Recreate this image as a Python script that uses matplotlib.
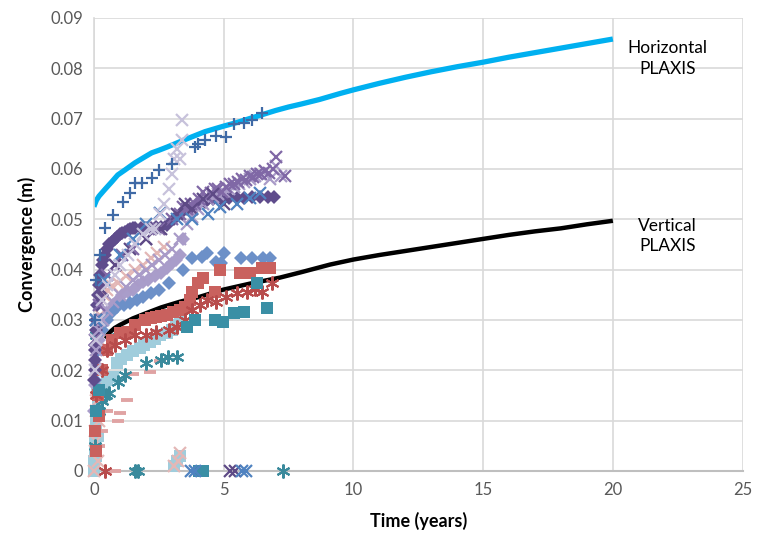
import matplotlib
matplotlib.use("Agg")
import matplotlib.pyplot as plt

# ---------------- data ----------------
plaxis_h_t = [0, 0.1, 0.2, 0.42, 0.7, 0.92, 1.2, 1.58, 2.0, 2.23, 2.5, 2.85, 3.5, 4.28, 5, 5.5, 6, 6.5, 7, 7.5, 8, 8.7, 9.5, 10, 11, 12, 13, 14, 15, 16, 17, 18, 19, 20]
plaxis_h_y = [0.0525, 0.0538, 0.0546, 0.0559, 0.0575, 0.0588, 0.0598, 0.0612, 0.0625, 0.0632, 0.0637, 0.0644, 0.0658, 0.0674, 0.0685, 0.0692, 0.0700, 0.0708, 0.0716, 0.0723, 0.0729, 0.0738, 0.0750, 0.0757, 0.0770, 0.0782, 0.0793, 0.0803, 0.0812, 0.0822, 0.0831, 0.0840, 0.0849, 0.0858]

plaxis_v_t = [0.42, 0.6, 0.8, 1.0, 1.5, 2.04, 2.6, 3.3, 4.08, 4.97, 6, 7.16, 8, 9.1, 10, 11, 12, 13, 14, 15, 16, 17, 18, 19, 20]
plaxis_v_y = [0.0264, 0.0275, 0.0284, 0.0290, 0.0303, 0.0314, 0.0325, 0.0336, 0.0346, 0.0360, 0.0372, 0.0384, 0.0395, 0.0410, 0.0420, 0.0429, 0.0437, 0.0445, 0.0453, 0.0461, 0.0469, 0.0476, 0.0482, 0.0490, 0.0497]

blue_plus_t = [0.05, 0.1, 0.23, 0.42, 0.73, 1.12, 1.39, 1.58, 1.85, 2.23, 2.5, 3.0, 3.9, 4.0, 4.28, 4.7, 5.08, 5.39, 5.78, 6.08, 6.47]
blue_plus_y = [0.030, 0.038, 0.043, 0.0483, 0.0509, 0.0535, 0.0553, 0.0573, 0.0573, 0.0582, 0.0598, 0.0610, 0.0644, 0.0650, 0.0658, 0.0666, 0.0664, 0.0690, 0.0692, 0.0698, 0.0712]

lav_x_t = [0.05, 0.1, 0.2, 0.3, 0.5, 0.8, 1.0, 1.3, 1.6, 1.9, 2.2, 2.35, 2.55, 2.7, 2.9, 3.0, 3.1, 3.2, 3.3, 3.4, 3.4]
lav_x_y = [0.020, 0.026, 0.030, 0.034, 0.037, 0.039, 0.041, 0.043, 0.045, 0.047, 0.048, 0.048, 0.051, 0.053, 0.056, 0.059, 0.062, 0.064, 0.062, 0.0658, 0.0698]

dpurple_dia_t = [0.02, 0.03, 0.04, 0.05, 0.06, 0.08, 0.1, 0.13, 0.16, 0.2, 0.25, 0.3, 0.36, 0.43, 0.5, 0.6, 0.7, 0.8, 0.9, 1.0, 1.1, 1.2, 1.3, 1.4, 1.5, 1.6, 1.8, 2.0, 2.2, 2.4, 2.6, 2.8, 3.1, 3.4, 3.7, 4.0, 4.3, 4.6, 4.9, 5.2, 5.5, 5.8, 6.1, 6.4, 6.7, 6.95]
dpurple_dia_y = [0.018, 0.020, 0.022, 0.024, 0.025, 0.028, 0.030, 0.033, 0.035, 0.037, 0.039, 0.041, 0.042, 0.043, 0.044, 0.045, 0.0455, 0.046, 0.0465, 0.047, 0.0472, 0.0475, 0.0478, 0.048, 0.0482, 0.0483, 0.0483, 0.0483, 0.0483, 0.0485, 0.0485, 0.0488, 0.0500, 0.0515, 0.0520, 0.0530, 0.0535, 0.0540, 0.0540, 0.0543, 0.0543, 0.0543, 0.0545, 0.0545, 0.0545, 0.0545]

purple_x_t = [0.05, 0.1, 0.2, 0.3, 0.5, 0.8, 1.1, 1.5, 2.0, 2.5, 3.0, 3.3, 3.45, 3.6, 3.75, 3.9, 4.05, 4.2, 4.35, 4.5, 4.65, 4.8, 4.95, 5.1, 5.25, 5.4, 5.55, 5.7, 5.85, 6.0, 6.15, 6.3, 6.45, 6.6, 6.75, 6.9, 7.0, 7.35]
purple_x_y = [0.026, 0.030, 0.033, 0.036, 0.039, 0.041, 0.043, 0.044, 0.046, 0.048, 0.050, 0.051, 0.0525, 0.052, 0.053, 0.053, 0.054, 0.0555, 0.0545, 0.0553, 0.056, 0.056, 0.0555, 0.0565, 0.057, 0.057, 0.0575, 0.058, 0.0578, 0.0585, 0.0583, 0.0589, 0.059, 0.0595, 0.0592, 0.0600, 0.0624, 0.0585]

lpurple_x_t = [0.1, 0.2, 0.35, 0.5, 0.75, 1.0, 1.25, 1.5, 1.75, 2.0, 2.25, 2.5, 2.75, 3.0, 3.3, 3.6, 3.8, 4.0, 4.2, 4.4, 4.6, 4.8, 5.0, 5.2, 5.4, 5.6, 5.8, 6.0, 6.2, 6.4, 6.6, 6.8, 7.0, 7.2]
lpurple_x_y = [0.024, 0.028, 0.030, 0.032, 0.0335, 0.035, 0.0365, 0.038, 0.039, 0.040, 0.041, 0.042, 0.043, 0.044, 0.046, 0.049, 0.0505, 0.052, 0.053, 0.054, 0.0545, 0.055, 0.0555, 0.056, 0.0565, 0.057, 0.0575, 0.058, 0.0585, 0.059, 0.0595, 0.058, 0.0605, 0.0585]

dpurple_x_t = [0.1, 0.3, 0.8, 1.4, 2.0, 2.6, 3.2, 3.5, 3.8, 4.2, 4.6, 5.0, 5.25, 5.45]
dpurple_x_y = [0.030, 0.036, 0.041, 0.044, 0.046, 0.048, 0.051, 0.053, 0.052, 0.054, 0.055, 0.053, 0.0, 0.0]

blue_x_t = [0.1, 0.4, 1.0, 1.5, 2.0, 2.55, 3.2, 3.8, 4.4, 4.85, 5.5, 6.0, 6.4, 3.75, 3.9, 5.7, 5.85]
blue_x_y = [0.030, 0.038, 0.043, 0.046, 0.049, 0.0513, 0.050, 0.050, 0.051, 0.0525, 0.053, 0.0543, 0.0553, 0.0, 0.0, 0.0, 0.0]

lpurple_dia_t = [0.02, 0.05, 0.1, 0.15, 0.2, 0.3, 0.42, 0.6, 0.75, 0.92, 1.1, 1.3, 1.5, 1.7, 1.9, 2.1, 2.35, 2.6, 2.8, 3.0, 3.15, 3.3, 3.45]
lpurple_dia_y = [0.012, 0.017, 0.021, 0.024, 0.026, 0.029, 0.0306, 0.032, 0.033, 0.034, 0.035, 0.0355, 0.036, 0.037, 0.0375, 0.038, 0.0387, 0.0394, 0.0403, 0.0413, 0.0420, 0.0430, 0.0460]

pink_x_t = [0.02, 0.04, 0.06, 0.08, 0.1, 0.12, 0.15, 0.18, 0.2, 0.25, 0.3, 0.4, 0.5, 0.7, 0.92, 1.25, 1.58, 1.9, 2.2, 2.45, 2.7, 3.3, 3.1, 3.25, 0.15, 0.1, 0.2, 0.12]
pink_x_y = [0.0, 0.004, 0.008, 0.012, 0.016, 0.020, 0.024, 0.026, 0.028, 0.031, 0.034, 0.035, 0.036, 0.0367, 0.0374, 0.0387, 0.040, 0.041, 0.0423, 0.0433, 0.0445, 0.0035, 0.001, 0.002, 0.002, 0.006, 0.010, 0.014]

blue_dia_t = [0.05, 0.15, 0.3, 0.5, 0.7, 0.88, 1.15, 1.4, 1.65, 1.9, 2.2, 2.5, 2.9, 3.43, 3.8, 4.16, 4.35, 4.7, 4.9, 5.0, 5.66, 6.1, 6.5, 6.8]
blue_dia_y = [0.018, 0.024, 0.028, 0.030, 0.0315, 0.0326, 0.033, 0.0334, 0.034, 0.0346, 0.0353, 0.036, 0.0374, 0.040, 0.0423, 0.0426, 0.0433, 0.0415, 0.0413, 0.0433, 0.0423, 0.0423, 0.0423, 0.0423]

red_sq_t = [0.05, 0.15, 0.3, 0.5, 0.7, 1.0, 1.3, 1.6, 1.96, 2.2, 2.4, 2.6, 2.8, 3.05, 3.3, 3.5, 3.7, 3.8, 4.0, 4.2, 4.66, 4.85, 5.62, 6.0, 6.47, 6.78, 0.1, 0.2]
red_sq_y = [0.008, 0.015, 0.020, 0.024, 0.026, 0.0274, 0.0277, 0.029, 0.0300, 0.0303, 0.0306, 0.0308, 0.0310, 0.0315, 0.0320, 0.0325, 0.0340, 0.0356, 0.0374, 0.0383, 0.0356, 0.0400, 0.0393, 0.0393, 0.0403, 0.0403, 0.004, 0.011]

red_ast_t = [0.1, 0.3, 0.5, 0.8, 1.2, 1.6, 2.0, 2.4, 2.9, 3.2, 3.5, 3.8, 4.1, 4.35, 4.7, 5.1, 5.5, 5.9, 6.2, 6.47, 6.85, 0.42]
red_ast_y = [0.015, 0.020, 0.024, 0.025, 0.026, 0.027, 0.027, 0.0277, 0.0280, 0.0286, 0.030, 0.0320, 0.033, 0.0340, 0.0336, 0.0346, 0.0354, 0.0356, 0.0362, 0.0356, 0.0374, 0.0]

teal_sq_t = [0.1, 0.2, 3.6, 3.9, 4.66, 4.97, 5.4, 5.8, 6.3, 6.66, 4.2, 4.05]
teal_sq_y = [0.012, 0.016, 0.0287, 0.0300, 0.0300, 0.0296, 0.0314, 0.0316, 0.0374, 0.0324, 0.0, 0.0]

lblue_sq_t = [0.0, 0.02, 0.04, 0.06, 0.08, 0.1, 0.12, 0.15, 0.2, 0.25, 0.35, 0.5, 0.73, 0.88, 1.05, 1.27, 1.5, 1.77, 1.95, 2.15, 2.35, 2.55, 2.8, 3.0, 3.15, 3.3, 3.1, 3.2, 3.3, 0.1, 0.15, 0.12, 0.18]
lblue_sq_y = [0.0, 0.002, 0.004, 0.006, 0.008, 0.010, 0.012, 0.013, 0.015, 0.016, 0.0167, 0.018, 0.0187, 0.0215, 0.0222, 0.0230, 0.0238, 0.0245, 0.0250, 0.0257, 0.0263, 0.0270, 0.0275, 0.0280, 0.0290, 0.0300, 0.0010, 0.0020, 0.0030, 0.003, 0.007, 0.017, 0.020]

teal_ast_t = [0.05, 0.1, 0.2, 0.3, 0.45, 0.6, 0.73, 0.92, 1.2, 2.0, 2.6, 2.85, 3.2, 1.58, 1.7, 7.28]
teal_ast_y = [0.005, 0.027, 0.012, 0.014, 0.015, 0.0155, 0.026, 0.0177, 0.019, 0.0215, 0.022, 0.0227, 0.0227, 0.0, 0.0, 0.0]

pink_dash_t = [0.2, 0.3, 0.5, 0.8, 0.92, 1.0, 1.27, 1.5, 2.16, 2.54]
pink_dash_y = [0.005, 0.008, 0.012, 0.0, 0.0099, 0.0115, 0.0141, 0.0193, 0.0197, 0.0219]

x_ticks = [0, 5, 10, 15, 20, 25]
y_ticks = [0, 0.01, 0.02, 0.03, 0.04, 0.05, 0.06, 0.07, 0.08, 0.09]
y_tick_labels = ["0", "0.01", "0.02", "0.03", "0.04", "0.05", "0.06", "0.07", "0.08", "0.09"]

# ---------------- plot ----------------
plt.rcParams['font.family'] = ['Lato', 'DejaVu Sans']
fig = plt.figure(figsize=(7.57, 5.42), dpi=100)
ax = fig.add_axes([0.124, 0.131, 0.857, 0.836])

ax.plot(plaxis_h_t, plaxis_h_y, color='#00B0F0', lw=3.8, zorder=2, solid_capstyle='butt')
ax.plot(plaxis_v_t, plaxis_v_y, color='#000000', lw=3.2, zorder=2, solid_capstyle='butt')


def sc(t, y, marker, color, size, mew=1.6):
    filled = marker in ('s', 'D')
    ax.plot(t, y, ls='none', marker=marker, markersize=size,
            color=color, markeredgewidth=0 if filled else mew,
            zorder=3, clip_on=False)


sc(lblue_sq_t, lblue_sq_y, 's', '#A0CDDC', 8)
sc(pink_x_t, pink_x_y, 'x', '#E3B7B6', 8)
sc(pink_dash_t, pink_dash_y, '_', '#E0A3A3', 8, 2.8)
sc(teal_ast_t, teal_ast_y, (6, 2, 0), '#3A8A9C', 10, 1.5)
sc(lpurple_dia_t, lpurple_dia_y, 'D', '#A99DCA', 7)
sc(blue_dia_t, blue_dia_y, 'D', '#6C90C8', 7)
sc(red_sq_t, red_sq_y, 's', '#C9615E', 8)
sc(red_ast_t, red_ast_y, (6, 2, 0), '#B84C4C', 10, 1.5)
sc(teal_sq_t, teal_sq_y, 's', '#3A8FA5', 8)
sc(dpurple_dia_t, dpurple_dia_y, 'D', '#5F4C8C', 7)
sc(lpurple_x_t, lpurple_x_y, 'x', '#A99BC8', 8)
sc(purple_x_t, purple_x_y, 'x', '#8068A6', 8)
sc(dpurple_x_t, dpurple_x_y, 'x', '#5E4A86', 8)
sc(blue_x_t, blue_x_y, 'x', '#4F82C0', 8)
sc(lav_x_t, lav_x_y, 'x', '#C7C2DB', 9)
sc(blue_plus_t, blue_plus_y, '+', '#3F6AA6', 9)

ax.text(22.1, 0.0819, "Horizontal\nPLAXIS", ha='center', va='center', fontsize=12.5,
        linespacing=1.35, color='#000000')
ax.text(22.1, 0.0467, "Vertical\nPLAXIS", ha='center', va='center', fontsize=12.5,
        linespacing=1.35, color='#000000')

ax.set_xlim(0, 25)
ax.set_ylim(0, 0.09)
ax.set_xticks(x_ticks)
ax.set_yticks(y_ticks)
ax.set_yticklabels(y_tick_labels)
ax.tick_params(length=0, labelsize=12, colors='#595959', pad=8)
ax.grid(True, color='#D9D9D9', lw=1.2)
ax.set_axisbelow(True)
for s in ['top', 'right']:
    ax.spines[s].set_visible(False)
ax.spines['left'].set_color('#D9D9D9')
ax.spines['left'].set_linewidth(1.2)
ax.spines['bottom'].set_color('#BFBFBF')
ax.spines['bottom'].set_linewidth(1.5)

ax.set_xlabel("Time (years)", fontsize=13, fontweight='bold', labelpad=10)
ax.set_ylabel("Convergence (m)", fontsize=13, fontweight='bold', labelpad=10)

fig.savefig("out.png", dpi=100)
